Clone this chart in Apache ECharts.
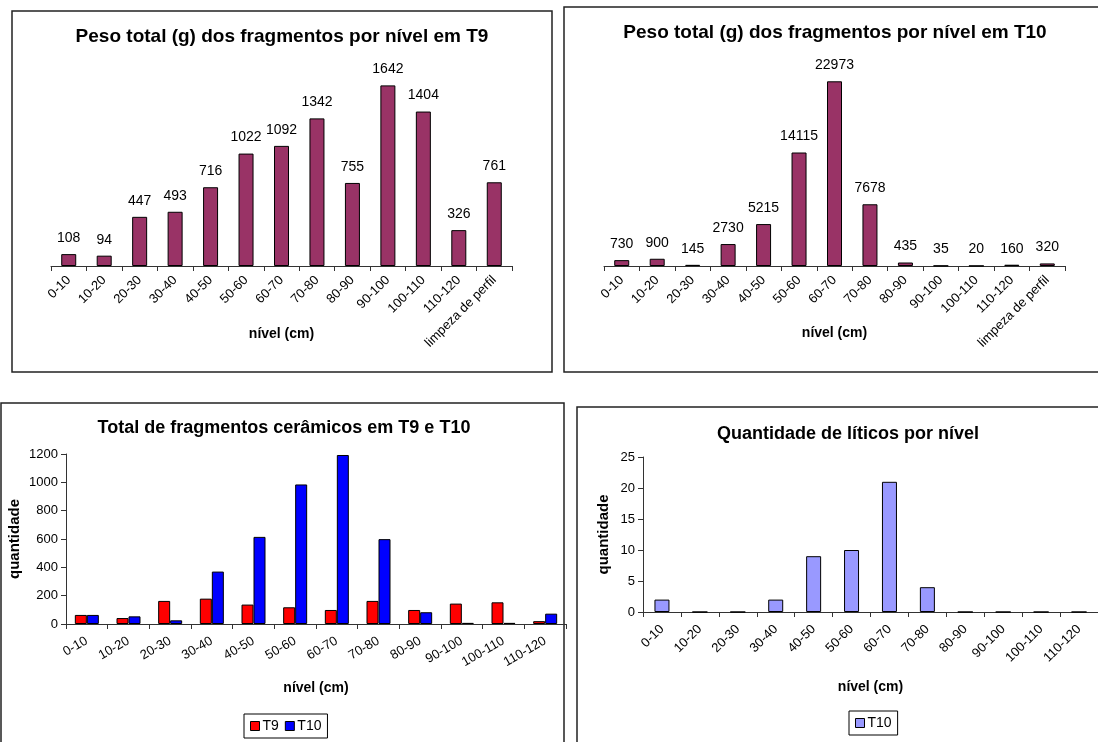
<!DOCTYPE html>
<html>
<head>
<meta charset="utf-8">
<script src="https://cdn.jsdelivr.net/npm/echarts@6/dist/echarts.min.js"></script>
<style>
html,body{margin:0;padding:0;background:#fff;}
#c{width:1098px;height:742px;}
</style>
</head>
<body>
<div id="c"></div>
<script>
// ---- data ----
const niveisPeso = ['0-10','10-20','20-30','30-40','40-50','50-60','60-70','70-80','80-90','90-100','100-110','110-120','limpeza de perfil'];
const pesoT9 = [108,94,447,493,716,1022,1092,1342,755,1642,1404,326,761];
const pesoT10 = [730,900,145,2730,5215,14115,22973,7678,435,35,20,160,320];
const niveisQtd = ['0-10','10-20','20-30','30-40','40-50','50-60','60-70','70-80','80-90','90-100','100-110','110-120'];
const ceramT9 = [64,42,163,179,137,118,99,163,99,144,153,20];
const ceramT10 = [64,54,26,370,615,985,1193,599,83,8,8,73];
const liticosT10 = [2,0,0,2,9,10,21,4,0,0,0,0];
const titles = ['Peso total (g) dos fragmentos por nível em T9','Peso total (g) dos fragmentos por nível em T10','Total de fragmentos cerâmicos em T9 e T10','Quantidade de líticos por nível'];
const xName = 'nível (cm)';
const yName = 'quantidade';

const FONT = 'Liberation Sans, Arial, sans-serif';
const chart = echarts.init(document.getElementById('c'), null, {renderer:'canvas'});

const axisLineStyle = {color:'#333', width:1};
function catAxis(gridIndex, data, rotate, nameGap, margin){
  return {
    type:'category', gridIndex, data,
    boundaryGap:true,
    axisLine:{show:true, lineStyle:axisLineStyle},
    axisTick:{show:true, length:5, lineStyle:axisLineStyle, alignWithLabel:false},
    axisLabel:{interval:0, rotate, fontSize:13, color:'#000', fontFamily:FONT, margin},
    name:xName, nameLocation:'middle', nameGap, nameMoveOverlap:false,
    nameTextStyle:{fontSize:14, fontWeight:'bold', color:'#000', fontFamily:FONT},
    splitLine:{show:false}
  };
}
function valAxis(gridIndex, max, interval, nameGap){
  return {type:'value', gridIndex, min:0, max, interval,
     axisLine:{show:true, lineStyle:axisLineStyle}, axisTick:{show:true, length:5, lineStyle:axisLineStyle},
     axisLabel:{fontSize:13, color:'#000', fontFamily:FONT, margin:8, formatter:v => String(v)}, splitLine:{show:false},
     name:yName, nameLocation:'middle', nameGap, nameRotate:90, nameMoveOverlap:false,
     nameTextStyle:{fontSize:15, fontWeight:'bold', color:'#000', fontFamily:FONT}};
}
const barBorder = {borderColor:'#000', borderWidth:1};
const labelTop = {show:true, position:'top', distance:9, fontSize:14, color:'#000', fontFamily:FONT};
const titleStyle = size => ({fontSize:size, fontWeight:'bold', color:'#000', fontFamily:FONT});

const option = {
  animation:false,
  backgroundColor:'#fff',
  textStyle:{fontFamily:FONT},
  title:[
    {text:titles[0], left:282, top:27, padding:0, textAlign:'center', textStyle:titleStyle(19)},
    {text:titles[1], left:835, top:23, padding:0, textAlign:'center', textStyle:titleStyle(19)},
    {text:titles[2], left:284, top:419, padding:0, textAlign:'center', textStyle:titleStyle(18)},
    {text:titles[3], left:848, top:425, padding:0, textAlign:'center', textStyle:titleStyle(18)}
  ],
  legend:[
    {seriesIndex:[2,3], data:['T9','T10'], left:244, top:714, orient:'horizontal',
     borderColor:'#000', borderWidth:1, padding:[5,6,5,6], itemGap:6, itemWidth:9, itemHeight:9, icon:'rect',
     itemStyle:{borderColor:'#000', borderWidth:1},
     textStyle:{fontSize:14, color:'#000', fontFamily:FONT, padding:[0,0,0,-2]}},
    {data:['T10 líticos'], left:849, top:711, formatter:()=> 'T10',
     borderColor:'#000', borderWidth:1, padding:[5,6,5,6], itemWidth:9, itemHeight:9, icon:'rect',
     itemStyle:{borderColor:'#000', borderWidth:1},
     textStyle:{fontSize:14, color:'#000', fontFamily:FONT, padding:[0,0,0,-2]}}
  ],
  grid:[
    {left:51, top:68, width:461, height:198},
    {left:604, top:65, width:461, height:201},
    {left:66, top:454, width:500, height:170},
    {left:643, top:457, width:461, height:155}
  ],
  xAxis:[
    catAxis(0, niveisPeso, 45, 61, 12),
    catAxis(1, niveisPeso, 45, 60, 12),
    catAxis(2, niveisQtd, 30, 57, 16),
    catAxis(3, niveisQtd, 45, 68, 15)
  ],
  yAxis:[
    {type:'value', gridIndex:0, min:0, max:1800, show:false},
    {type:'value', gridIndex:1, min:0, max:25000, show:false},
    valAxis(2, 1200, 200, 44),
    valAxis(3, 25, 5, 32)
  ],
  series:[
    {type:'bar', name:'Peso T9', xAxisIndex:0, yAxisIndex:0, data:pesoT9, barWidth:15,
     itemStyle:Object.assign({color:'#993366'}, barBorder), label:labelTop},
    {type:'bar', name:'Peso T10', xAxisIndex:1, yAxisIndex:1, data:pesoT10, barWidth:15,
     itemStyle:Object.assign({color:'#993366'}, barBorder), label:labelTop},
    {type:'bar', name:'T9', xAxisIndex:2, yAxisIndex:2, data:ceramT9, barWidth:12, barGap:'0%',
     itemStyle:Object.assign({color:'#FF0000'}, barBorder)},
    {type:'bar', name:'T10', xAxisIndex:2, yAxisIndex:2, data:ceramT10, barWidth:12, barGap:'0%',
     itemStyle:Object.assign({color:'#0000FF'}, barBorder)},
    {type:'bar', name:'T10 líticos', xAxisIndex:3, yAxisIndex:3, data:liticosT10, barWidth:15,
     itemStyle:Object.assign({color:'#9999FF'}, barBorder)}
  ],
  graphic:[
    {type:'rect', shape:{x:12, y:11, width:540, height:361}, style:{fill:null, stroke:'#222', lineWidth:1.5}, z:-1},
    {type:'rect', shape:{x:564, y:7, width:560, height:365}, style:{fill:null, stroke:'#222', lineWidth:1.5}, z:-1},
    {type:'rect', shape:{x:1, y:403, width:563, height:360}, style:{fill:null, stroke:'#222', lineWidth:1.5}, z:-1},
    {type:'rect', shape:{x:577, y:407, width:560, height:360}, style:{fill:null, stroke:'#222', lineWidth:1.5}, z:-1}
  ]
};
chart.setOption(option);
</script>
</body>
</html>
